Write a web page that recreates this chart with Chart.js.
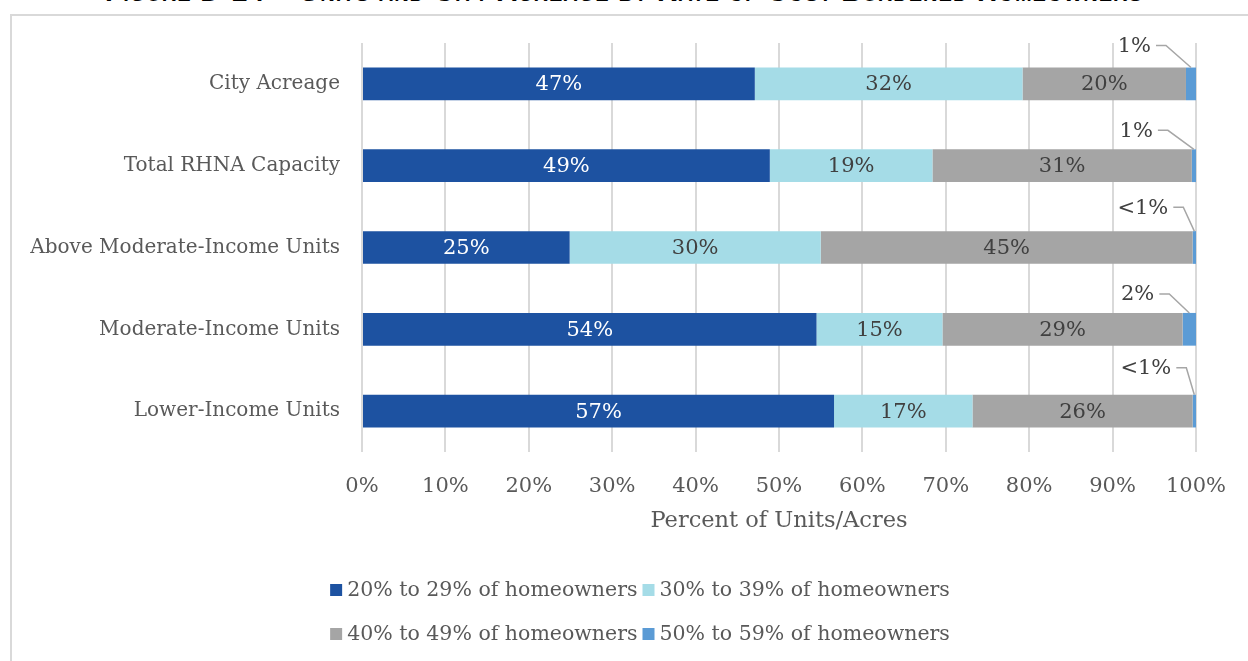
<!DOCTYPE html>
<html><head><meta charset="utf-8">
<script src="https://cdn.jsdelivr.net/npm/chart.js@4"></script>
<style>
html,body{margin:0;padding:0;background:#fff;overflow:hidden;}
#wrap{position:relative;width:1248px;height:661px;overflow:hidden;background:#fff;}
#frame{position:absolute;left:10px;top:14px;width:1300px;height:700px;border:2px solid #d9d9d9;box-sizing:border-box;}
#title{position:absolute;left:0;width:1248px;top:-22px;text-align:center;font:bold 28px "Liberation Sans";font-variant:small-caps;letter-spacing:1px;line-height:28px;color:#000;white-space:nowrap;}
canvas{position:absolute;left:0;top:0;}
</style></head>
<body><div id="wrap"><div id="title">Figure D‐24 – Units and City Acreage by Rate of Cost Burdened Homeowners</div><div id="frame"></div><canvas id="c" width="1248" height="661"></canvas></div>
<script>
// ---- data ----
const categories = ["City Acreage","Total RHNA Capacity","Above Moderate-Income Units","Moderate-Income Units","Lower-Income Units"];
const seriesNames = ["20% to 29% of homeowners","30% to 39% of homeowners","40% to 49% of homeowners","50% to 59% of homeowners"];
const s20to29 = [47.1, 48.9, 24.9, 54.5, 56.6];
const s30to39 = [32.1, 19.5, 30.1, 15.1, 16.6];
const s40to49 = [19.6, 31.1, 44.6, 28.8, 26.4];
const s50to59 = [1.2, 0.5, 0.4, 1.6, 0.4];
const lbl20to29 = ["47%","49%","25%","54%","57%"];
const lbl30to39 = ["32%","19%","30%","15%","17%"];
const lbl40to49 = ["20%","31%","45%","29%","26%"];
const lbl50to59 = ["1%","1%","<1%","2%","<1%"];
const xTickValues = [0,10,20,30,40,50,60,70,80,90,100];
const xAxisTitle = "Percent of Units/Acres";

// ---- styles ----
const colors = ["#1D52A1","#A5DCE7","#A5A5A5","#5B9BD5"];
const FONT = '"DejaVu Serif"';
const FS = 21;
const TXT = "#595959";
const calloutElbow = [[-25,-22],[-26,-19],[-11,-24],[-20,-19],[-8,-27]];

const allVals = [s20to29, s30to39, s40to49, s50to59];
const allLbls = [lbl20to29, lbl30to39, lbl40to49, lbl50to59];

const labelPlugin = {
  id: 'segLabels',
  afterDatasetsDraw(chart) {
    const ctx = chart.ctx;
    ctx.save();
    ctx.font = FS + 'px ' + FONT;
    ctx.textBaseline = 'middle';
    chart.data.datasets.forEach((ds, di) => {
      const meta = chart.getDatasetMeta(di);
      meta.data.forEach((el, i) => {
        const txt = allLbls[di][i];
        if (di < 3) {
          ctx.fillStyle = di === 0 ? '#FFFFFF' : '#404040';
          ctx.textAlign = 'center';
          ctx.fillText(txt, (el.x + el.base) / 2, el.y + 1);
        } else {
          const ax = (el.x + el.base) / 2;
          const ay = el.y - el.height / 2;
          const ex = ax + calloutElbow[i][0];
          const ey = ay + calloutElbow[i][1];
          ctx.strokeStyle = '#A6A6A6';
          ctx.lineWidth = 1.5;
          ctx.beginPath();
          ctx.moveTo(ex - 10, ey);
          ctx.lineTo(ex, ey);
          ctx.lineTo(ax, ay);
          ctx.stroke();
          ctx.fillStyle = '#404040';
          ctx.textAlign = 'right';
          ctx.fillText(txt, ex - 15, ey + 1);
        }
      });
    });
    // axis title
    const ca = chart.chartArea;
    ctx.fillStyle = TXT;
    ctx.textAlign = 'center';
    ctx.font = '22.5px ' + FONT;
    ctx.fillText(xAxisTitle, (ca.left + ca.right) / 2, 521);
    // legend
    ctx.font = '20.5px ' + FONT;
    const rows = [[0,1],[2,3]];
    const rowY = [590, 634];
    rows.forEach((r, ri) => {
      const widths = r.map(d => 12 + 5 + ctx.measureText(seriesNames[d]).width);
      const total = widths.reduce((a,b)=>a+b,0) + 5 * (r.length - 1);
      let x = 640 - total / 2;
      r.forEach((d, k) => {
        ctx.fillStyle = colors[d];
        ctx.fillRect(x, rowY[ri] - 6, 12, 12);
        ctx.fillStyle = TXT;
        ctx.textAlign = 'left';
        ctx.fillText(seriesNames[d], x + 17, rowY[ri] + 1);
        x += widths[k] + 5;
      });
    });
    ctx.restore();
  }
};

new Chart(document.getElementById('c'), {
  type: 'bar',
  data: {
    labels: categories,
    datasets: seriesNames.map((n, i) => ({
      label: n,
      data: allVals[i],
      backgroundColor: colors[i],
      borderWidth: 0,
      categoryPercentage: 1,
      barPercentage: 0.40
    }))
  },
  options: {
    indexAxis: 'y',
    responsive: false,
    animation: false,
    devicePixelRatio: 1,
    layout: { padding: { top: 43, right: 49, left: 0, bottom: 0 } },
    plugins: { legend: { display: false }, tooltip: { enabled: false } },
    scales: {
      x: {
        stacked: true, min: 0, max: 100,
        afterBuildTicks: s => { s.ticks = xTickValues.map(v => ({ value: v })); },
        afterFit: s => { s.height = 661 - 452; },
        grid: { color: '#D9D9D9', lineWidth: 2, drawTicks: false },
        border: { display: false },
        ticks: { padding: 22, color: TXT, font: { family: FONT, size: FS }, callback: v => v + '%' }
      },
      y: {
        stacked: true,
        afterFit: s => { s.width = 362; },
        grid: { display: false, drawTicks: false },
        border: { display: false },
        ticks: { padding: 22, color: TXT, font: { family: FONT, size: 20 } }
      }
    }
  },
  plugins: [labelPlugin]
});
</script>
</body></html>
